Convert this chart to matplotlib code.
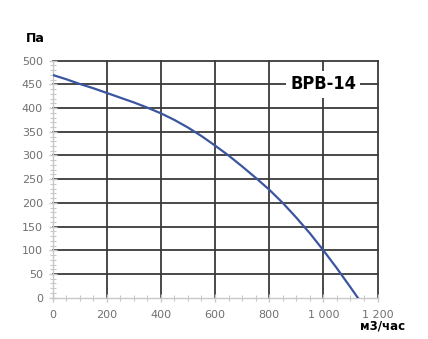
import matplotlib.pyplot as plt
import numpy as np
from matplotlib.ticker import MultipleLocator, FixedLocator

# flow (m3/h) vs pressure (Pa)
flow = [0, 50, 100, 150, 200, 250, 300, 350, 400, 450, 500, 550, 600,
        650, 700, 750, 800, 850, 900, 950, 1000, 1050, 1100, 1127]
pressure = [470, 461, 451, 442, 432, 422, 412, 401, 389, 375, 359, 341, 321,
            300, 277, 253, 228, 200, 169, 136, 100, 62, 22, 0]

x_ticks = [0, 200, 400, 600, 800, 1000, 1200]
x_labels = ['0', '200', '400', '600', '800', '1 000', '1 200']
y_ticks = [0, 50, 100, 150, 200, 250, 300, 350, 400, 450, 500]

fig = plt.figure(figsize=(4.28, 3.39), dpi=100)
ax = fig.add_axes([0.1227, 0.1218, 0.7594, 0.6992])

ax.set_xlim(0, 1200)
ax.set_ylim(0, 500)

# dark grid
for xv in x_ticks[1:]:
    ax.axvline(xv, color='#3a3a3a', lw=1.3, zorder=1, clip_on=False)
for yv in y_ticks[1:]:
    ax.axhline(yv, color='#3a3a3a', lw=1.3, zorder=1, clip_on=False)

ax.plot(flow, pressure, color='#3b55a0', lw=1.6, zorder=3)

for s in ['top', 'right']:
    ax.spines[s].set_visible(False)
for s in ['left', 'bottom']:
    ax.spines[s].set_color('#c8c8c8')
    ax.spines[s].set_linewidth(1.0)

ax.xaxis.set_major_locator(FixedLocator(x_ticks))
ax.set_xticklabels(x_labels)
ax.yaxis.set_major_locator(FixedLocator(y_ticks))
ax.xaxis.set_minor_locator(MultipleLocator(50))
ax.yaxis.set_minor_locator(MultipleLocator(10))
ax.tick_params(which='major', direction='inout', length=6, width=1, color='#c8c8c8',
               labelsize=8, labelcolor='#707070')
ax.tick_params(which='minor', direction='inout', length=5, width=0.8, color='#c8c8c8')
ax.tick_params(axis='x', which='major', pad=6)
ax.tick_params(axis='y', which='major', pad=4)

ax.text(-0.052, 1.094, 'Па', transform=ax.transAxes, fontsize=9, fontweight='bold',
        ha='center', va='center')
ax.text(1.015, -0.12, 'м3/час', transform=ax.transAxes, fontsize=8.5, fontweight='bold',
        ha='center', va='center')

ax.text(1000, 450, 'BPB-14', fontsize=13, fontweight='bold', ha='center', va='center',
        family='DejaVu Sans', stretch='condensed', zorder=4,
        bbox=dict(facecolor='white', edgecolor='none', pad=3))

fig.savefig('out.png', dpi=100)
